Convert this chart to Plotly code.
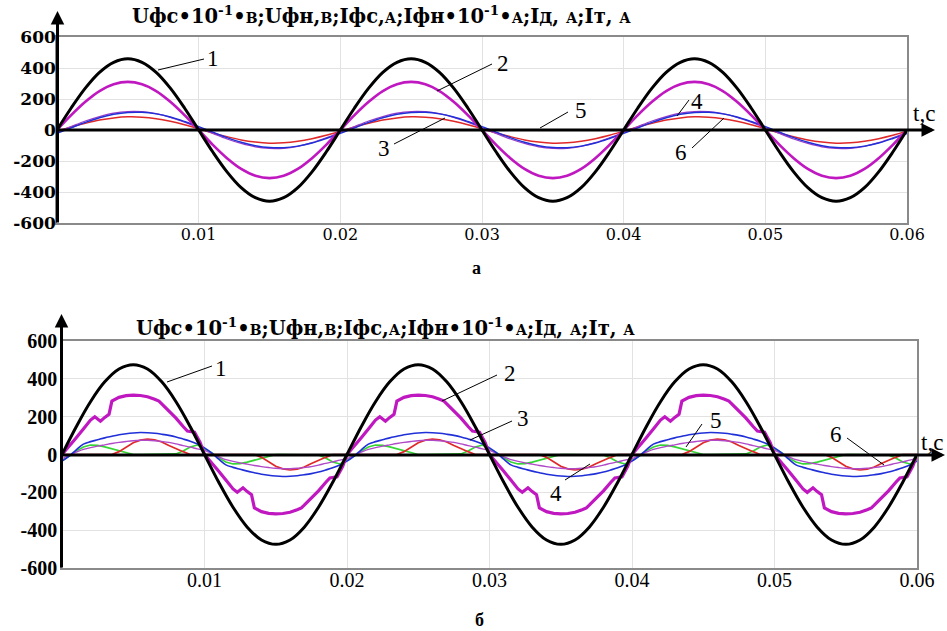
import plotly.graph_objects as go

# ---------------- DATA (one period) ----------------
PERIOD = 0.02
N_PERIODS = 3
X_TICKS = [0.01, 0.02, 0.03, 0.04, 0.05, 0.06]
X_TICK_TEXT = ["0.01", "0.02", "0.03", "0.04", "0.05", "0.06"]
Y_TICKS = [-600, -400, -200, 0, 200, 400, 600]
Y_TICK_TEXT = ["-600", "-400", "-200", "0", "200", "400", "600"]

# panel "а" : samples every 0.001 s over one period (20 samples)
a_t = [0.000, 0.001, 0.002, 0.003, 0.004, 0.005, 0.006, 0.007, 0.008, 0.009,
       0.010, 0.011, 0.012, 0.013, 0.014, 0.015, 0.016, 0.017, 0.018, 0.019]
a_black = [0, 142, 270, 372, 437, 460, 437, 372, 270, 142,
           0, -142, -270, -372, -437, -460, -437, -372, -270, -142]
a_magenta = [0, 96, 182, 251, 295, 310, 295, 251, 182, 96,
             0, -96, -182, -251, -295, -310, -295, -251, -182, -96]
a_blue = [-22, 14, 49, 79, 101, 113, 114, 104, 84, 55,
          22, -14, -49, -79, -101, -113, -114, -104, -84, -55]
a_violet = [-15, 22, 58, 87, 109, 119, 118, 105, 82, 51,
            15, -22, -58, -87, -109, -119, -118, -105, -82, -51]
a_red = [-8, 19, 43, 64, 78, 85, 83, 73, 56, 34,
         8, -19, -43, -64, -78, -85, -83, -73, -56, -34]

# panel "б"
b_t1 = a_t
b_black = [0, 147, 279, 384, 452, 475, 452, 384, 279, 147,
           0, -147, -279, -384, -452, -475, -452, -384, -279, -147]

b_mag_t = [0.0000, 0.0005, 0.0010, 0.0015, 0.0020, 0.0023, 0.0027, 0.0030, 0.0033, 0.0035,
           0.0040, 0.0045, 0.0050, 0.0055, 0.0060, 0.0065, 0.0068, 0.0070, 0.0075, 0.0080,
           0.0085, 0.0088, 0.0093, 0.0097,
           0.0100, 0.0105, 0.0110, 0.0115, 0.0120, 0.0123, 0.0127, 0.0130, 0.0133, 0.0135,
           0.0140, 0.0145, 0.0150, 0.0155, 0.0160, 0.0165, 0.0168, 0.0170, 0.0175, 0.0180,
           0.0185, 0.0188, 0.0193, 0.0197]
b_magenta = [0, 42, 88, 135, 182, 200, 176, 196, 212, 282,
             302, 311, 314, 312, 305, 292, 282, 268, 232, 192,
             148, 124, 118, 62,
             0, -42, -88, -135, -182, -200, -176, -196, -212, -282,
             -302, -311, -314, -312, -305, -292, -282, -268, -232, -192,
             -148, -124, -118, -62]

b_t2 = [0.0000, 0.0005, 0.0010, 0.0015, 0.0020, 0.0025, 0.0030, 0.0035, 0.0040, 0.0045,
        0.0050, 0.0055, 0.0060, 0.0065, 0.0070, 0.0075, 0.0080, 0.0085, 0.0090, 0.0095,
        0.0100, 0.0105, 0.0110, 0.0115, 0.0120, 0.0125, 0.0130, 0.0135, 0.0140, 0.0145,
        0.0150, 0.0155, 0.0160, 0.0165, 0.0170, 0.0175, 0.0180, 0.0185, 0.0190, 0.0195]
b_blue = [-35, -8, 25, 55, 68, 78, 88, 96, 104, 110,
          114, 116, 115, 112, 107, 101, 93, 82, 70, 55,
          35, 8, -25, -55, -68, -78, -88, -96, -104, -110,
          -114, -116, -115, -112, -107, -101, -93, -82, -70, -55]
b_violet = [-22, -5, 12, 27, 36, 44, 51, 58, 64, 69,
            73, 75, 75, 73, 69, 64, 56, 47, 39, 30,
            22, 5, -12, -27, -36, -44, -51, -58, -64, -69,
            -73, -75, -75, -73, -69, -64, -56, -47, -39, -30]
b_red = [0, 0, 0, 0, 0, 0, 0, 0, 15, 40,
         62, 76, 82, 78, 66, 48, 30, 15, 0, 0,
         0, 0, 0, 0, 0, 0, 0, 0, -15, -40,
         -62, -76, -82, -78, -66, -48, -30, -15, 0, 0]
b_green = [-32, -10, 18, 40, 50, 48, 40, 30, 20, 8,
           0, 0, 0, 0, 0, 0, 3, 18, 40, 50,
           32, 10, -18, -40, -50, -48, -40, -30, -20, -8,
           0, 0, 0, 0, 0, 0, -3, -18, -40, -50]


def tile(ts, vs):
    xs, ys = [], []
    for p in range(N_PERIODS):
        xs += [t + p * PERIOD for t in ts]
        ys += list(vs)
    xs.append(N_PERIODS * PERIOD)
    ys.append(vs[0])
    return xs, ys


W, H = 947, 631


def px(x):
    return x / W


def py(y):
    return 1 - y / H


fig = go.Figure()

# ---- panel а ----
top = [(a_red, "#e02828", 1.5, "spline"), (a_violet, "#9a3cc8", 1.3, "spline"),
       (a_blue, "#2030d8", 1.5, "spline"), (a_magenta, "#c018c0", 2.7, "spline"),
       (a_black, "#000000", 3.0, "spline")]
for vals, col, w, shp in top:
    xs, ys = tile(a_t, vals)
    fig.add_trace(go.Scatter(x=xs, y=ys, mode="lines", line=dict(color=col, width=w, shape=shp),
                             xaxis="x", yaxis="y", showlegend=False, hoverinfo="skip"))

# ---- panel б ----
bot = [(b_t2, b_green, "#33d633", 1.7, "linear"), (b_t2, b_red, "#e02828", 1.7, "linear"),
       (b_t2, b_violet, "#b048c8", 1.4, "spline"), (b_t2, b_blue, "#2030d8", 1.6, "spline"),
       (b_mag_t, b_magenta, "#c018c0", 3.2, "linear"), (b_t1, b_black, "#000000", 3.0, "spline")]
for ts, vals, col, w, shp in bot:
    xs, ys = tile(ts, vals)
    fig.add_trace(go.Scatter(x=xs, y=ys, mode="lines", line=dict(color=col, width=w, shape=shp),
                             xaxis="x2", yaxis="y2", showlegend=False, hoverinfo="skip"))

axis_common = dict(showgrid=True, gridcolor="#e2e2e2", gridwidth=1, zeroline=False,
                   showline=True, mirror=True, linecolor="#8a8a8a", linewidth=1.5, ticks="",
                   automargin=False)

fig.update_layout(
    width=W, height=H, margin=dict(l=0, r=0, t=0, b=0, pad=0, autoexpand=False),
    paper_bgcolor="white", plot_bgcolor="white",
    xaxis=dict(domain=[px(57), px(907)], range=[0, 0.06], anchor="y",
               tickvals=X_TICKS, ticktext=X_TICK_TEXT, ticklabelstandoff=-4,
               tickfont=dict(family="DejaVu Serif", size=16, color="black"), **axis_common),
    yaxis=dict(domain=[py(223), py(37)], range=[-600, 600], anchor="x",
               tickvals=Y_TICKS, ticktext=Y_TICK_TEXT, ticklabelstandoff=-4,
               tickfont=dict(family="DejaVu Serif", size=17, color="black", weight="bold"), **axis_common),
    xaxis2=dict(domain=[px(62), px(917)], range=[0, 0.06], anchor="y2",
                tickvals=X_TICKS, ticktext=X_TICK_TEXT, ticklabelstandoff=-7,
                tickfont=dict(family="Liberation Serif", size=20, color="black"), **axis_common),
    yaxis2=dict(domain=[py(568), py(341)], range=[-600, 600], anchor="x2",
                tickvals=Y_TICKS, ticktext=Y_TICK_TEXT, ticklabelstandoff=-1,
                tickfont=dict(family="Liberation Serif", size=20, color="black", weight="bold"), **axis_common),
)

ann = []


def arrow(tipx, tipy, tailx, taily, w=3):
    ann.append(dict(xref="paper", yref="paper", x=px(tipx), y=py(tipy), ax=tailx - tipx, ay=taily - tipy,
                    axref="pixel", ayref="pixel", text="", showarrow=True, arrowhead=2,
                    arrowsize=0.9, arrowwidth=w, arrowcolor="black", standoff=0, startstandoff=0))


arrow(57.5, 11, 57.5, 224)
arrow(935, 130, 56, 130)
arrow(61.5, 314, 61.5, 569)
arrow(945, 455, 60, 455)

sm = "<span style='font-size:14px'>%s</span>"
title = ("Uфс•10<sup>-1</sup>•" + sm % "В" + ";Uфн," + sm % "В" + ";Iфс," + sm % "А" +
         ";Iфн•10<sup>-1</sup>•" + sm % "А" + ";Iд, " + sm % "А" + ";Iт, " + sm % "А")
tfont = dict(family="DejaVu Serif", size=19.5, color="black", weight="bold")
ann.append(dict(xref="paper", yref="paper", x=px(381), y=py(15), text=title, showarrow=False,
                font=tfont, xanchor="center", yanchor="middle"))
ann.append(dict(xref="paper", yref="paper", x=px(385), y=py(327), text=title, showarrow=False,
                font=tfont, xanchor="center", yanchor="middle"))

lfont = dict(family="Liberation Serif", size=23, color="black")
labels = [("1", 213, 58), ("2", 503, 63), ("3", 384, 148), ("4", 697, 101), ("5", 581, 110),
          ("6", 681, 152), ("t,c", 924, 114),
          ("1", 221, 368), ("2", 510, 373), ("3", 523, 418), ("4", 556, 493), ("5", 716, 420),
          ("6", 836, 435), ("t,c", 932, 442)]
for txt, x, y in labels:
    ann.append(dict(xref="paper", yref="paper", x=px(x), y=py(y), text=txt, showarrow=False,
                    font=lfont, xanchor="center", yanchor="middle"))

ann.append(dict(xref="paper", yref="paper", x=px(476), y=py(268), text="<b>а</b>", showarrow=False,
                font=dict(family="Liberation Serif", size=18, color="black"),
                xanchor="center", yanchor="middle"))
ann.append(dict(xref="paper", yref="paper", x=px(480), y=py(620), text="<b>б</b>", showarrow=False,
                font=dict(family="Liberation Serif", size=18, color="black"),
                xanchor="center", yanchor="middle"))

fig.update_layout(annotations=ann)

leaders = [(158, 70, 204, 59), (437, 91, 492, 64), (394, 144, 445, 118), (677, 116, 689, 100),
           (540, 128, 568, 112), (692, 148, 724, 118),
           (167, 382, 212, 366), (442, 401, 497, 375), (470, 440, 512, 421), (565, 480, 590, 464),
           (686, 447, 702, 424), (847, 438, 884, 465)]
shapes = []
for x0, y0, x1, y1 in leaders:
    shapes.append(dict(type="line", xref="paper", yref="paper", x0=px(x0), y0=py(y0), x1=px(x1), y1=py(y1),
                       line=dict(color="black", width=1)))
fig.update_layout(shapes=shapes)

fig.write_html("out.html")
